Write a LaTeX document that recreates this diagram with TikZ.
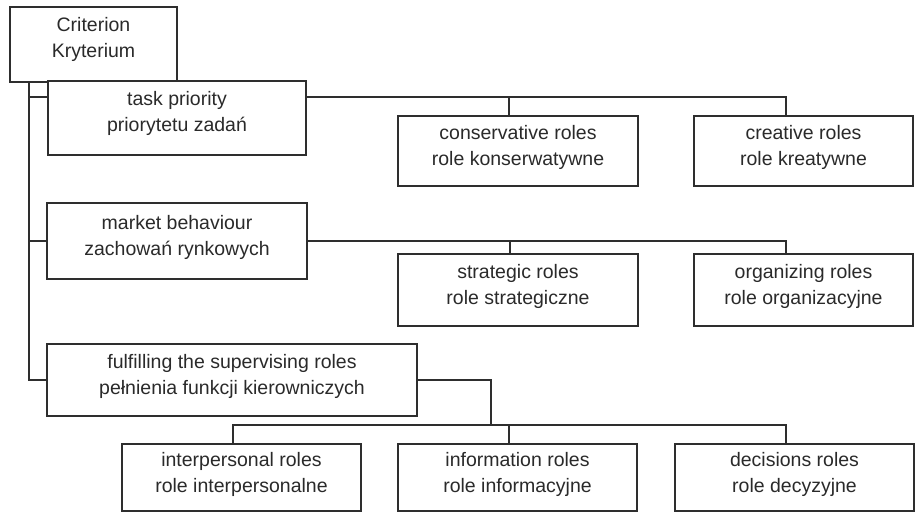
\documentclass[tikz,border=0pt]{standalone}
\usepackage{fontspec}
\setmainfont{Liberation Sans}
\definecolor{linec}{HTML}{2E2E2E}
\definecolor{textc}{HTML}{2A2A2A}
\begin{document}
\begin{tikzpicture}[x=1pt,y=-1pt,
  box/.style={draw=linec, line width=2pt, fill=white, inner sep=0pt, rectangle},
  txt/.style={text=textc, align=center, inner sep=0pt, font=\fontsize{19.5}{26}\selectfont},
  conn/.style={draw=linec, line width=2pt}]
\useasboundingbox (0,0) rectangle (923,513);
\fill[white] (0,0) rectangle (923,513);
% boxes
\node[box, minimum width=167pt, minimum height=75pt] (crit) at (93.5,44.5) {};
\node[box, minimum width=258pt, minimum height=74pt] (task) at (177,118) {};
\node[box, minimum width=240pt, minimum height=70pt] (cons) at (518,151) {};
\node[box, minimum width=219pt, minimum height=70pt] (crea) at (803.5,151) {};
\node[box, minimum width=260pt, minimum height=76pt] (mark) at (177,241) {};
\node[box, minimum width=240pt, minimum height=72pt] (stra) at (518,290) {};
\node[box, minimum width=219pt, minimum height=72pt] (orga) at (803.5,290) {};
\node[box, minimum width=370pt, minimum height=72pt] (fulf) at (232,380) {};
\node[box, minimum width=239pt, minimum height=67pt] (inte) at (241.5,477.5) {};
\node[box, minimum width=239pt, minimum height=67pt] (info) at (517.5,477.5) {};
\node[box, minimum width=239pt, minimum height=67pt] (deci) at (794.5,477.5) {};
% texts
\node[txt] (crit-t) at ([yshift=5]crit.center) {Criterion\\Kryterium};
\node[txt] (task-t) at ([yshift=5]task.center) {task priority\\priorytetu zadań};
\node[txt] (cons-t) at ([yshift=4]cons.center) {conservative roles\\role konserwatywne};
\node[txt] (crea-t) at ([yshift=4]crea.center) {creative roles\\role kreatywne};
\node[txt] (mark-t) at ([yshift=4]mark.center) {market behaviour\\zachowań rynkowych};
\node[txt] (stra-t) at ([yshift=4]stra.center) {strategic roles\\role strategiczne};
\node[txt] (orga-t) at ([yshift=4]orga.center) {organizing roles\\role organizacyjne};
\node[txt] (fulf-t) at ([yshift=4]fulf.center) {fulfilling the supervising roles\\pełnienia funkcji kierowniczych};
\node[txt] (inte-t) at ([yshift=3]inte.center) {interpersonal roles\\role interpersonalne};
\node[txt] (info-t) at ([yshift=3]info.center) {information roles\\role informacyjne};
\node[txt] (deci-t) at ([yshift=3]deci.center) {decisions roles\\role decyzyjne};
% connectors
\coordinate (trk) at ([xshift=20]crit.south west);
\coordinate (bus) at (491,425);
\draw[conn] (trk) |- (fulf.west);
\draw[conn] (trk) |- ([yshift=21]task.west);
\draw[conn] (trk) |- (mark.west);
\draw[conn] ([yshift=21]task.east) -| ([xshift=-17.5]crea.north);
\draw[conn] ([xshift=-9]cons.north) |- ([yshift=21]task.east);
\draw[conn] (mark.east) -| ([xshift=-17.5]orga.north);
\draw[conn] ([xshift=-8]stra.north) |- (mark.east);
\draw[conn] (fulf.east) -| (bus);
\draw[conn] ([xshift=-8.5]inte.north) |- (bus) -| ([xshift=-8.5]deci.north);
\draw[conn] ([xshift=-8.5]info.north) |- (bus);
\end{tikzpicture}
\end{document}
